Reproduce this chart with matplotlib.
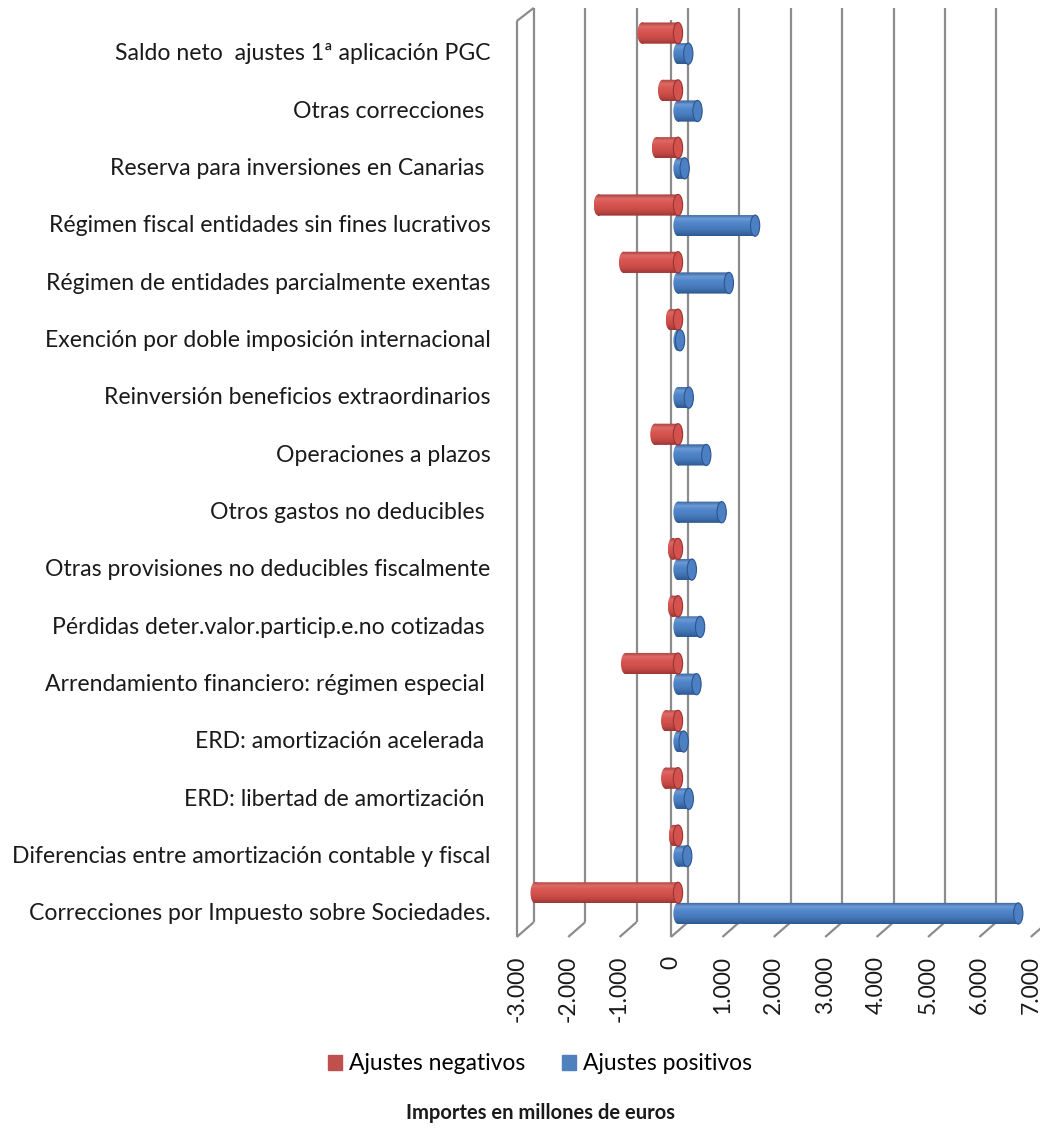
import numpy as np
import matplotlib
matplotlib.use("Agg")
import matplotlib.pyplot as plt
from matplotlib.patches import Patch, Ellipse, PathPatch
from matplotlib.path import Path
from matplotlib.colors import LinearSegmentedColormap

plt.rcParams['font.family'] = ['Lato', 'DejaVu Sans']

categorias = [
    "Saldo neto  ajustes 1ª aplicación PGC",
    "Otras correcciones ",
    "Reserva para inversiones en Canarias ",
    "Régimen fiscal entidades sin fines lucrativos",
    "Régimen de entidades parcialmente exentas",
    "Exención por doble imposición internacional",
    "Reinversión beneficios extraordinarios",
    "Operaciones a plazos",
    "Otros gastos no deducibles ",
    "Otras provisiones no deducibles fiscalmente",
    "Pérdidas deter.valor.particip.e.no cotizadas ",
    "Arrendamiento financiero: régimen especial ",
    "ERD: amortización acelerada ",
    "ERD: libertad de amortización ",
    "Diferencias entre amortización contable y fiscal",
    "Correcciones por Impuesto sobre Sociedades.",
]
ajustes_negativos = [-700, -300, -420, -1550, -1060, -150, 0, -450, 0, -110,
                     -110, -1020, -240, -240, -90, -2780]
ajustes_positivos = [200, 380, 130, 1500, 990, 40, 210, 550, 850, 270,
                     430, 360, 110, 210, 180, 6620]
ticks = list(range(-3000, 8000, 1000))
tick_labels = [f"{t:,}".replace(",", ".") for t in ticks]

# 3D look: depth offsets of the back wall and the front edge of the floor
BACK, FRONT = 195, -136
GRID_TOP, GRID_BOT, FLOOR_BOT = -0.77, 15.18, 15.44
BAR_H = 0.37
CAP_W = 180


def cylinder(ax, y, x0, x1, colors, cap_face, cap_edge):
    left, right = min(x0, x1), max(x0, x1)
    if right - left < 1:
        return
    top, bot = y - BAR_H / 2, y + BAR_H / 2
    rect = Path([(left, top), (right, top), (right, bot), (left, bot), (left, top)],
                [Path.MOVETO, Path.LINETO, Path.LINETO, Path.LINETO, Path.CLOSEPOLY])
    end = Ellipse((left, y), CAP_W, BAR_H)
    back_end = end.get_path().transformed(end.get_patch_transform())
    clip = PathPatch(Path.make_compound_path(rect, back_end), facecolor='none',
                     edgecolor='none', transform=ax.transData)
    ax.add_patch(clip)
    cmap = LinearSegmentedColormap.from_list("cyl", colors)
    im = ax.imshow(np.linspace(0, 1, 80).reshape(-1, 1), cmap=cmap, aspect='auto',
                   extent=(left - CAP_W / 2, right, bot, top), origin='upper',
                   zorder=3, interpolation='bilinear')
    im.set_clip_path(clip)
    ax.add_patch(Ellipse((right, y), CAP_W, BAR_H, facecolor=cap_face,
                         edgecolor=cap_edge, lw=0.8, zorder=4))


fig = plt.figure(figsize=(10.4, 11.29), dpi=100)
ax = fig.add_axes([500 / 1040, 1 - 945 / 1129, 540 / 1040, 945 / 1129])

grid_kw = dict(color='#8c8c8c', lw=1.6, zorder=1, solid_capstyle='butt')
for t in ticks:
    ax.plot([t + BACK, t + BACK], [GRID_TOP, GRID_BOT], **grid_kw)
    ax.plot([t + BACK, t + FRONT], [GRID_BOT, FLOOR_BOT], **grid_kw)
# side wall on the left and the zero plane
ax.plot([ticks[0] + FRONT, ticks[0] + FRONT], [-0.54, FLOOR_BOT], **grid_kw)
ax.plot([ticks[0] + FRONT, ticks[0] + BACK], [-0.54, GRID_TOP], **grid_kw)
ax.plot([FRONT, FRONT], [-0.56, FLOOR_BOT], **grid_kw)

red_cols = ['#a83c39', '#dc6a66', '#da5753', '#d0504c', '#c04743', '#9c3633']
blue_cols = ['#33619c', '#6e9ad4', '#5087cb', '#4a7fc0', '#3f70ae', '#2e5890']
ypos = np.arange(len(categorias))
for i in ypos:
    cylinder(ax, i - 0.33, ajustes_negativos[i], 0, red_cols, '#d4524e', '#973431')
    cylinder(ax, i + 0.03, 0, ajustes_positivos[i], blue_cols, '#4c80c2', '#2c5590')

ax.set_xlim(-3463, 7043)
ax.set_ylim(15.58, -0.907)
ax.set_yticks(ypos)
ax.set_yticklabels(categorias, fontsize=16.6, color='#1a1a1a')
ax.set_xticks(np.array(ticks) + FRONT)
ax.set_xticklabels(tick_labels, rotation=90, fontsize=16.5, color='#1a1a1a')
ax.tick_params(length=0)
ax.tick_params(axis='y', pad=7)
ax.tick_params(axis='x', pad=8)
for s in ax.spines.values():
    s.set_visible(False)

handles = [Patch(color='#c0504d', label='Ajustes negativos'),
           Patch(color='#4f81bd', label='Ajustes positivos')]
fig.legend(handles=handles, loc='center', bbox_to_anchor=(540 / 1040, 1 - 1064 / 1129),
           ncol=2, frameon=False, fontsize=16.5, handlelength=0.62, handleheight=0.62,
           handletextpad=0.3, columnspacing=1.6)
fig.text(540 / 1040, 1 - 1113 / 1129, "Importes en millones de euros", ha='center',
         va='center', fontsize=14.5, fontweight='bold', color='#1a1a1a')

fig.savefig("out.png", dpi=100)
